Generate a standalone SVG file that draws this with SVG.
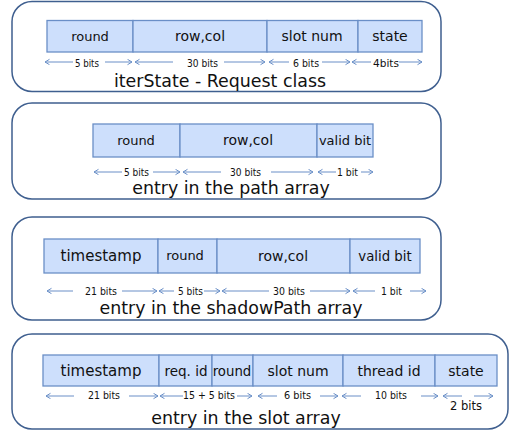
<svg xmlns="http://www.w3.org/2000/svg" width="510" height="431" viewBox="0 0 510 431">
<style>
.panel{fill:#fff;stroke:#3f5f8f;stroke-width:1.5}
.f{fill:#cddffc;stroke:#6a8fc7;stroke-width:1.3}
.fl{font-family:"DejaVu Sans",sans-serif;font-size:14px;fill:#111;text-anchor:middle}
.bl{font-family:"DejaVu Sans",sans-serif;font-size:11px;fill:#111}
.ti{font-family:"DejaVu Sans",sans-serif;font-size:17.4px;fill:#111;text-anchor:middle}
.a{stroke:#6a8fc7;stroke-width:1;fill:none;marker-end:url(#ch)}
</style>
<defs>
<marker id="ch" markerUnits="userSpaceOnUse" markerWidth="7" markerHeight="7" refX="5" refY="3" orient="auto">
<path d="M0.5,0.3 L5,3 L0.5,5.7" fill="none" stroke="#6a8fc7" stroke-width="1"/>
</marker>
</defs>

<g id="panel1">
<rect class="panel" x="12" y="1.5" width="429" height="90" rx="20"/>
<rect class="f" x="47" y="20.5" width="86" height="31.5"/>
<rect class="f" x="133" y="20.5" width="134" height="31.5"/>
<rect class="f" x="267" y="20.5" width="91" height="31.5"/>
<rect class="f" x="358" y="20.5" width="64" height="31.5"/>
<text class="fl" x="90" y="41" style="font-size:13px">round</text>
<text class="fl" x="200" y="41">row,col</text>
<text class="fl" x="312" y="41">slot num</text>
<text class="fl" x="390" y="41">state</text>
<text class="bl" x="75" y="67" textLength="24" lengthAdjust="spacingAndGlyphs">5 bits</text>
<text class="bl" x="187" y="67" textLength="31" lengthAdjust="spacingAndGlyphs">30 bits</text>
<text class="bl" x="293" y="67" textLength="26" lengthAdjust="spacingAndGlyphs">6 bits</text>
<text class="bl" x="373" y="67" textLength="26" lengthAdjust="spacingAndGlyphs">4bits</text>
<text class="ti" x="220" y="86.5">iterState - Request class</text>
</g>

<g id="panel2">
<rect class="panel" x="12" y="103" width="429" height="96" rx="20"/>
<rect class="f" x="93" y="124" width="87" height="33"/>
<rect class="f" x="180" y="124" width="137" height="33"/>
<rect class="f" x="317" y="124" width="56" height="33"/>
<text class="fl" x="136" y="145" style="font-size:13px">round</text>
<text class="fl" x="248" y="145">row,col</text>
<text class="fl" x="345" y="145" style="font-size:13px">valid bit</text>
<text class="bl" x="124" y="175.5" textLength="25" lengthAdjust="spacingAndGlyphs">5 bits</text>
<text class="bl" x="230" y="175.5" textLength="31" lengthAdjust="spacingAndGlyphs">30 bits</text>
<text class="bl" x="337" y="175.5" textLength="21" lengthAdjust="spacingAndGlyphs">1 bit</text>
<text class="ti" x="231" y="194">entry in the path array</text>
</g>

<g id="panel3">
<rect class="panel" x="12" y="217" width="429" height="103" rx="20"/>
<rect class="f" x="44" y="239" width="114" height="34"/>
<rect class="f" x="158" y="239" width="59" height="34"/>
<rect class="f" x="217" y="239" width="133" height="34"/>
<rect class="f" x="350" y="239" width="70" height="34"/>
<text class="fl" x="101" y="261" style="font-size:15px">timestamp</text>
<text class="fl" x="185" y="260" style="font-size:13px">round</text>
<text class="fl" x="283" y="261">row,col</text>
<text class="fl" x="385" y="261" style="font-size:13.3px">valid bit</text>
<text class="bl" x="85" y="295" textLength="32" lengthAdjust="spacingAndGlyphs">21 bits</text>
<text class="bl" x="178" y="295" textLength="25" lengthAdjust="spacingAndGlyphs">5 bits</text>
<text class="bl" x="273" y="295" textLength="32" lengthAdjust="spacingAndGlyphs">30 bits</text>
<text class="bl" x="381" y="295" textLength="21" lengthAdjust="spacingAndGlyphs">1 bit</text>
<text class="ti" x="231" y="314">entry in the shadowPath array</text>
</g>

<g id="panel4">
<rect class="panel" x="12" y="334" width="496" height="95" rx="20"/>
<rect class="f" x="43" y="355" width="116" height="31"/>
<rect class="f" x="159" y="355" width="53" height="31"/>
<rect class="f" x="212" y="355" width="41" height="31"/>
<rect class="f" x="253" y="355" width="90" height="31"/>
<rect class="f" x="343" y="355" width="92" height="31"/>
<rect class="f" x="435" y="355" width="62" height="31"/>
<text class="fl" x="101" y="376" style="font-size:15px">timestamp</text>
<text class="fl" x="186" y="376" style="font-size:13.5px">req. id</text>
<text class="fl" x="232" y="376" style="font-size:13.3px">round</text>
<text class="fl" x="298" y="376">slot num</text>
<text class="fl" x="389" y="376">thread id</text>
<text class="fl" x="466" y="376">state</text>
<text class="bl" x="88" y="399" textLength="32" lengthAdjust="spacingAndGlyphs">21 bits</text>
<text class="bl" x="183" y="399" textLength="52" lengthAdjust="spacingAndGlyphs">15 + 5 bits</text>
<text class="bl" x="284" y="399" textLength="27" lengthAdjust="spacingAndGlyphs">6 bits</text>
<text class="bl" x="375" y="399" textLength="32" lengthAdjust="spacingAndGlyphs">10 bits</text>
<text class="bl" x="450" y="409.5" textLength="32" lengthAdjust="spacingAndGlyphs" style="font-size:11.5px">2 bits</text>
<text class="ti" x="246" y="424">entry in the slot array</text>
</g>

<g id="connectors">
<!-- panel 1 -->
<path class="a" d="M73,62 H45"/><path class="a" d="M105,62 H132"/>
<path class="a" d="M173,62 H135"/><path class="a" d="M224,62 H265"/>
<path class="a" d="M289,62 H269"/><path class="a" d="M322,62 H350"/>
<path class="a" d="M371,62 H352"/><path class="a" d="M399,62 H422"/>
<!-- panel 2 -->
<path class="a" d="M122,172 H94"/><path class="a" d="M153,172 H180"/>
<path class="a" d="M221,172 H183"/><path class="a" d="M271,172 H313"/>
<path class="a" d="M336,172 H318"/><path class="a" d="M361,172 H373"/>
<!-- panel 3 -->
<path class="a" d="M73,291 H47"/><path class="a" d="M122,291 H157"/>
<path class="a" d="M174,291 H159"/><path class="a" d="M204,291 H220"/>
<path class="a" d="M269,291 H222"/><path class="a" d="M310,291 H350"/>
<path class="a" d="M375,291 H353"/><path class="a" d="M410,291 H426"/>
<!-- panel 4 -->
<path class="a" d="M74,396 H46"/><path class="a" d="M129,396 H158"/>
<path class="a" d="M183,396 H160"/><path class="a" d="M237,396 H252"/>
<path class="a" d="M277,396 H258"/><path class="a" d="M320,396 H338"/>
<path class="a" d="M361,396 H342"/><path class="a" d="M421,396 H438"/>
<path class="a" d="M462,396 H443"/><path class="a" d="M474,396 H493"/>
</g>
</svg>
